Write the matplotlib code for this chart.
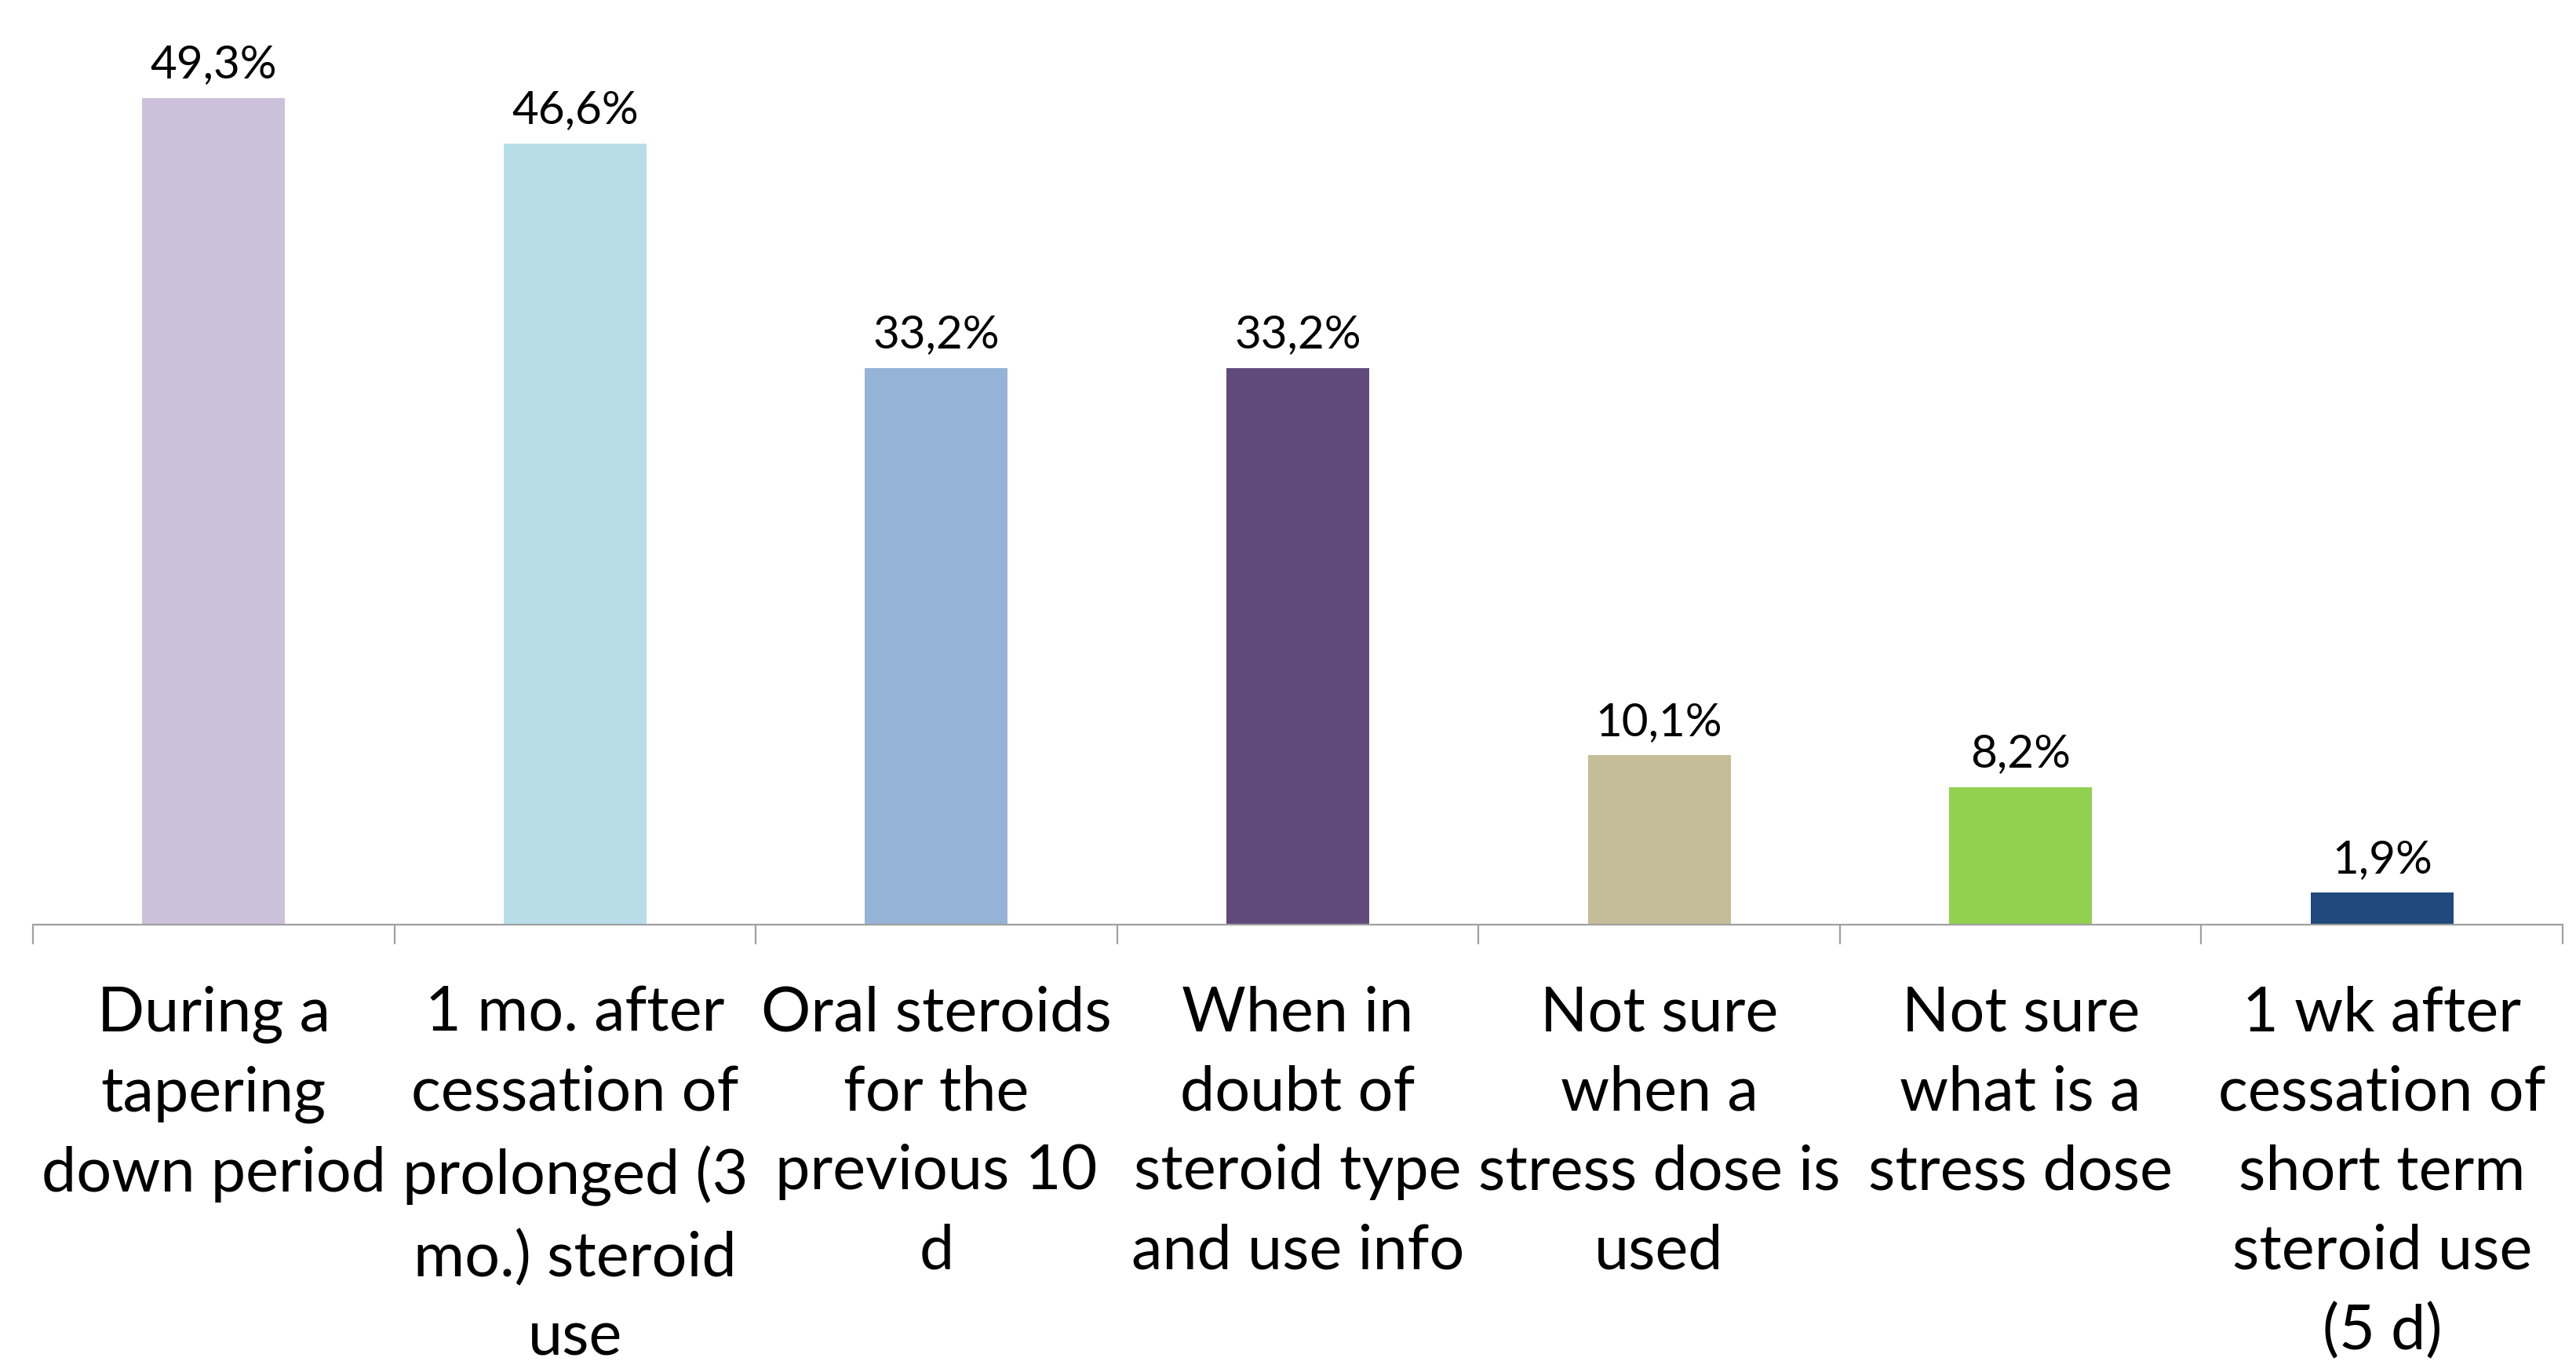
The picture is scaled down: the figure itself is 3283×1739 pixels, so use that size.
import matplotlib
matplotlib.use("Agg")
import matplotlib.pyplot as plt
from matplotlib.ticker import FixedLocator

categories = [
    "During a\ntapering\ndown period",
    "1 mo. after\ncessation of\nprolonged (3\nmo.) steroid\nuse",
    "Oral steroids\nfor the\nprevious 10\nd",
    "When in\ndoubt of\nsteroid type\nand use info",
    "Not sure\nwhen a\nstress dose is\nused",
    "Not sure\nwhat is a\nstress dose",
    "1 wk after\ncessation of\nshort term\nsteroid use\n(5 d)",
]
values = [49.3, 46.6, 33.2, 33.2, 10.1, 8.2, 1.9]
value_labels = ["49,3%", "46,6%", "33,2%", "33,2%", "10,1%", "8,2%", "1,9%"]
colors = ["#CCC1DA", "#B7DEE8", "#95B3D7", "#604A7B", "#C4BD97", "#92D050", "#1F497D"]

plt.rcParams['font.family'] = ['Lato', 'DejaVu Sans']

fig = plt.figure(figsize=(32.83, 17.40), dpi=100)
ax = fig.add_axes([42/3283, 1 - 1179/1740, (3266-42)/3283, 1179/1740])

x = list(range(len(values)))
ax.bar(x, values, width=0.395, color=colors, zorder=2)
ax.set_xlim(-0.5, len(values) - 0.5)
ax.set_ylim(0, 55.2)

for xi, v, lab in zip(x, values, value_labels):
    ax.annotate(lab, (xi, v), xytext=(0, 12), textcoords="offset points",
                ha="center", va="bottom", fontsize=42, color="black")

for s in ["top", "right", "left"]:
    ax.spines[s].set_visible(False)
ax.spines["bottom"].set_color("#A0A0A0")
ax.spines["bottom"].set_linewidth(1.6)
ax.set_yticks([])

ax.xaxis.set_major_locator(FixedLocator(x))
ax.set_xticklabels(categories, fontsize=57, linespacing=1.50, va="top", ha="center")
ax.tick_params(axis="x", which="major", length=0, pad=55)
ax.xaxis.set_minor_locator(FixedLocator([i - 0.5 for i in range(len(values) + 1)]))
ax.tick_params(axis="x", which="minor", length=18, width=1.6, color="#A0A0A0")

fig.savefig("out.png", dpi=100)
